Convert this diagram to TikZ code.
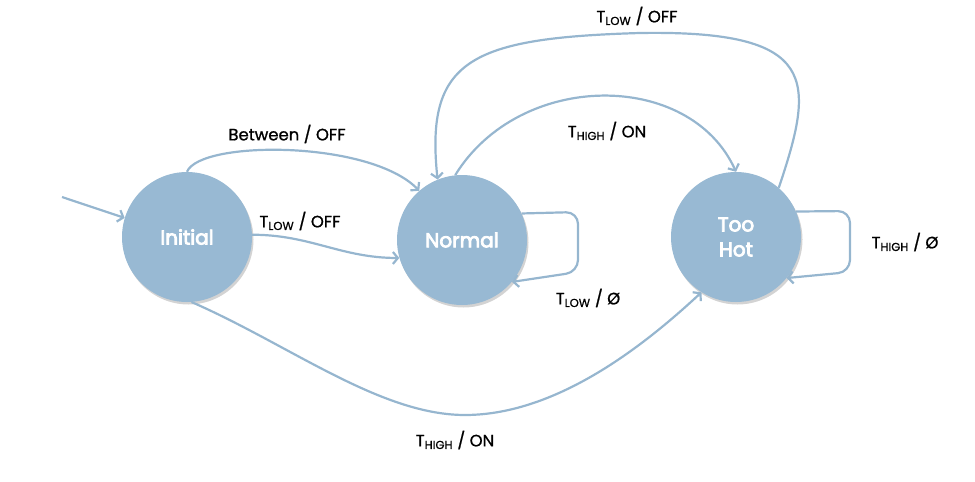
\documentclass[tikz,border=0pt]{standalone}
\usepackage{fontspec}
\setmainfont{Poppins}
\newfontfamily\lblfont{Poppins}[FakeBold=1]
\newfontfamily\statefont{Poppins}[FakeBold=4]
\usetikzlibrary{arrows.meta,shadows}
\definecolor{stateblue}{RGB}{152,185,211}
\definecolor{edgeblue}{RGB}{150,182,207}

\begin{document}
\begin{tikzpicture}[x=1pt,y=-1pt,
    state/.style={circle,fill=stateblue,minimum size=130pt,inner sep=0pt,
      text=white,font=\fontsize{20}{25}\statefont,align=center,
      drop shadow={shadow xshift=1.5pt,shadow yshift=-2.5pt,opacity=0.35}},
    edge/.style={draw=edgeblue,line width=2.2pt,
      -{Straight Barb[length=5pt,width=12pt]}},
    lbl/.style={font=\fontsize{16.5}{19}\lblfont}]
    \useasboundingbox (0,0) rectangle (975,482);

    %% States.
    \node[state] (init) at (187,237) {Initial};
    \node[state] (norm) at (462,240) {Normal};
    \node[state] (hot)  at (736,237) {Too\\Hot};
    \coordinate (start) at (62,197);

    %% Transitions.
    \draw[edge] (start) -- (init.163);
    \draw[edge] (init.90) .. controls (200,140) and (370,140) .. (norm.131);
    \draw[edge] (init.2) to[out=0,in=180] (norm.196);
    \draw[edge,rounded corners=12pt] (norm.24) -- (578,212) -- (578,272) -- (norm.-40);
    \draw[edge] (norm.96) .. controls (520,70) and (690,70) .. (hot.90);
    \draw[edge] (hot.49) .. controls (815,80) and (820,30) .. (640,33)
                .. controls (470,38) and (425,60) .. (norm.112);
    \draw[edge,rounded corners=12pt] (hot.23) -- (850,211) -- (850,272) -- (hot.-39);
    \draw[edge] (init.-86) .. controls (290,345) and (380,415) .. (465,415)
                .. controls (560,415) and (650,340) .. (hot.238);

    %% Labels.
    \node[lbl] (l1) at (287,134) {Between / OFF};
    \node[lbl] (l2) at (300,221) {T\textsubscript{LOW} / OFF};
    \node[lbl] (l3) at (637,16)  {T\textsubscript{LOW} / OFF};
    \node[lbl] (l4) at (607,131) {T\textsubscript{HIGH} / ON};
    \node[lbl] (l5) at (588,298) {T\textsubscript{LOW} / Ø};
    \node[lbl] (l6) at (905,242) {T\textsubscript{HIGH} / Ø};
    \node[lbl] (l7) at (455,440) {T\textsubscript{HIGH} / ON};
\end{tikzpicture}
\end{document}
